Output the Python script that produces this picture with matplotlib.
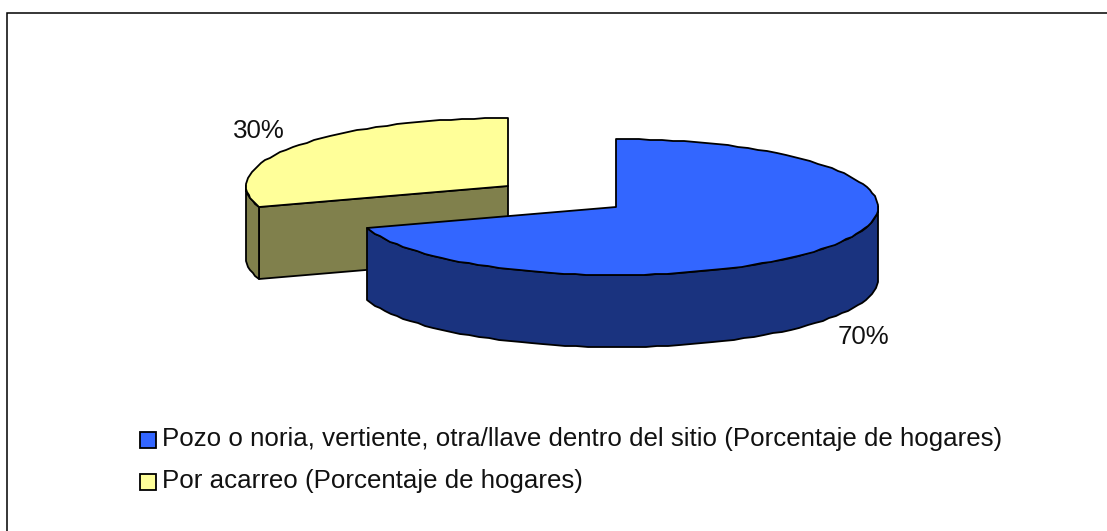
import numpy as np
import matplotlib
matplotlib.use("Agg")
import matplotlib.pyplot as plt
from matplotlib.patches import Polygon, Rectangle

plt.rcParams['font.family'] = ['Liberation Sans', 'DejaVu Sans']

labels = ["Pozo o noria, vertiente, otra/llave dentro del sitio (Porcentaje de hogares)",
          "Por acarreo (Porcentaje de hogares)"]
values = [70, 30]
pct_labels = ["70%", "30%"]
top_colors = ["#3366FF", "#FFFF99"]
side_colors = ["#1A337F", "#80804C"]

W, H = 1107, 531
fig = plt.figure(figsize=(W / 100, H / 100), dpi=100)
ax = fig.add_axes([0, 0, 1, 1])
ax.set_xlim(0, W)
ax.set_ylim(H, 0)
ax.axis("off")

ax.add_patch(Rectangle((7, 13), W + 10, H, fc="white", ec="black", lw=1.1, zorder=0))

RX, RY, DEPTH = 262, 68, 72
EC = dict(ec="black", lw=1.3, joinstyle="round")


def pt(c, deg, dy=0):
    a = np.radians(deg)
    # outline snapped to whole pixels, like the stepped edge of the original
    return np.round(np.column_stack([c[0] + RX * np.sin(a), c[1] - RY * np.cos(a) + dy]))


def arc(c, a0, a1, dy=0):
    n = max(2, int(abs(a1 - a0) / 2.5) + 1)
    return pt(c, np.linspace(a0, a1, n), dy)


fractions = np.array(values) / sum(values)
blue_end = 360 * fractions[0]
blue_c = (616, 207)
yellow_c = (508, 186)

# yellow slice (behind)
z = 2
front = np.array([pt(yellow_c, blue_end)[0], yellow_c])
ax.add_patch(Polygon(np.vstack([front, front[::-1] + [0, DEPTH]]), fc=side_colors[1], zorder=z, **EC))
rim = arc(yellow_c, blue_end, 270)
ax.add_patch(Polygon(np.vstack([rim, rim[::-1] + [0, DEPTH]]), fc=side_colors[1], zorder=z, **EC))
ax.add_patch(Polygon(np.vstack([[yellow_c], arc(yellow_c, blue_end, 360)]), fc=top_colors[1], zorder=z + 1, **EC))

# blue slice (front)
z = 5
rim = arc(blue_c, 90, blue_end)
ax.add_patch(Polygon(np.vstack([rim, rim[::-1] + [0, DEPTH]]), fc=side_colors[0], zorder=z, **EC))
ax.add_patch(Polygon(np.vstack([[blue_c], arc(blue_c, 0, blue_end)]), fc=top_colors[0], zorder=z + 1, **EC))

FS = 18.6
TC = "#111111"
ax.text(838, 344, pct_labels[0], fontsize=FS, ha="left", va="baseline", color=TC, zorder=8)
ax.text(233, 138, pct_labels[1], fontsize=FS, ha="left", va="baseline", color=TC, zorder=8)

for y, lab, col in zip([431.5, 473.5], labels, top_colors):
    ax.add_patch(Rectangle((140, y), 16, 16, fc=col, ec="black", lw=1.3, zorder=8))
    ax.text(162, y + 14.5, lab, fontsize=FS, ha="left", va="baseline", color=TC, zorder=8)

fig.savefig("out.png", dpi=100)
